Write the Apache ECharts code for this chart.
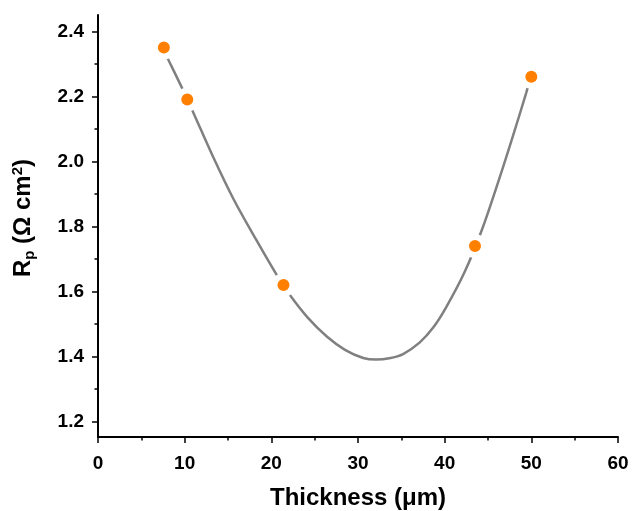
<!DOCTYPE html>
<html>
<head>
<meta charset="utf-8">
<script src="https://cdn.jsdelivr.net/npm/echarts@6/dist/echarts.min.js"></script>
<style>
  html, body { margin: 0; padding: 0; background: #fff; }
  #chart { width: 632px; height: 511px; }
</style>
</head>
<body>
<div id="chart"></div>
<script>
// measured points (thickness in um, Rp in ohm cm2)
var thickness = [7.6, 10.3, 21.4, 43.5, 50.0]
var rp = [2.35, 2.19, 1.62, 1.74, 2.26]

// fit curve
var fitX = [7.6, 8.2, 9.8, 10.9, 13.3, 15.6, 18.3, 20.6, 22.1, 24.2, 26.4, 28.5, 30.6, 32.1, 33.6, 35.2, 37.1, 38.7, 40.2, 42.3, 44.3, 46.4, 47.9, 49.4, 50.0]
var fitY = [2.34, 2.308, 2.22, 2.156, 2.013, 1.886, 1.757, 1.652, 1.591, 1.52, 1.462, 1.421, 1.396, 1.391, 1.395, 1.408, 1.443, 1.49, 1.553, 1.66, 1.79, 1.955, 2.08, 2.21, 2.265]

var majorY = [1.2, 1.4, 1.6, 1.8, 2.0, 2.2, 2.4]
var minorY = [1.3, 1.5, 1.7, 1.9, 2.1, 2.3]

var chart = echarts.init(document.getElementById('chart'))

var fitData = fitX.map(function (x, i) { return [x, fitY[i]] })
var pointData = thickness.map(function (x, i) { return [x, rp[i]] })

var labelFont = {
  fontFamily: 'Liberation Sans',
  fontWeight: 'bold',
  fontSize: 19,
  color: '#000'
}

var option = {
  animation: false,
  grid: { left: 98, right: 14, top: 15, bottom: 74, outerBoundsMode: 'none', containLabel: false },
  xAxis: {
    type: 'value',
    min: 0,
    max: 60,
    interval: 10,
    name: 'Thickness (\u03bcm)',
    nameLocation: 'middle',
    nameGap: 49,
    nameTextStyle: {
      fontFamily: 'Liberation Sans',
      fontWeight: 'bold',
      fontSize: 24,
      color: '#000'
    },
    axisLine: { lineStyle: { color: '#000', width: 2 } },
    axisTick: { length: 6, lineStyle: { color: '#000', width: 1.5 } },
    minorTick: { show: true, splitNumber: 2, length: 3.5, lineStyle: { color: '#000', width: 1.5 } },
    axisLabel: Object.assign({ margin: 17 }, labelFont),
    splitLine: { show: false }
  },
  yAxis: [
    {
      type: 'value',
      min: 1.153,
      max: 2.45,
      name: '{b|R}{sub|p}{b| (\u03a9 cm}{sup|2}{b|)}',
      nameLocation: 'middle',
      nameGap: 61,
      nameTextStyle: {
        padding: [0, 0, 0, 16],
        rich: {
          b: { fontFamily: 'Liberation Sans', fontWeight: 'bold', fontSize: 24, color: '#000' },
          sub: { fontFamily: 'Liberation Sans', fontWeight: 'bold', fontSize: 15, color: '#000', verticalAlign: 'bottom', padding: [12, 0, 0, 0] },
          sup: { fontFamily: 'Liberation Sans', fontWeight: 'bold', fontSize: 15, color: '#000', verticalAlign: 'top', padding: [0, 0, 12, 0] }
        }
      },
      axisLine: { show: true, lineStyle: { color: '#000', width: 2 } },
      axisTick: { show: true, length: 6, customValues: majorY, lineStyle: { color: '#000', width: 1.5 } },
      axisLabel: Object.assign({
        margin: 14,
        customValues: majorY,
        formatter: function (v) { return v.toFixed(1) }
      }, labelFont),
      splitLine: { show: false }
    },
    {
      type: 'value',
      position: 'left',
      min: 1.153,
      max: 2.45,
      axisLine: { show: false },
      axisTick: { show: true, length: 3.5, customValues: minorY, lineStyle: { color: '#000', width: 1.5 } },
      axisLabel: { show: false },
      splitLine: { show: false }
    }
  ],
  series: [
    {
      type: 'line',
      data: fitData,
      smooth: 0.35,
      showSymbol: false,
      lineStyle: { color: '#808080', width: 2.5 },
      z: 2
    },
    {
      type: 'scatter',
      data: pointData,
      symbol: 'circle',
      symbolSize: 18,
      itemStyle: { color: '#ff8000', borderColor: '#fff', borderWidth: 6, opacity: 1 },
      z: 3
    }
  ]
}

chart.setOption(option)
</script>
</body>
</html>
